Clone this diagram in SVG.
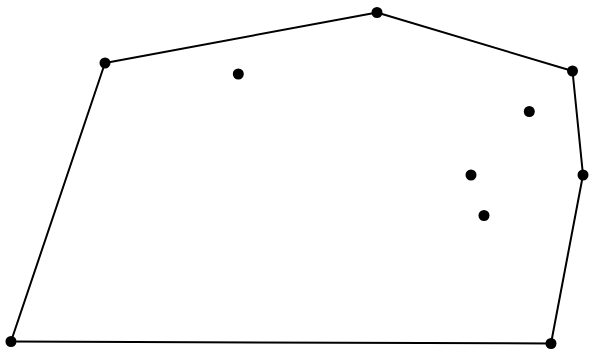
<svg xmlns="http://www.w3.org/2000/svg" width="589" height="356" viewBox="0 0 589 356">
<style>
.edge{stroke:#000;stroke-width:2;fill:none;stroke-linecap:round}
.pt{fill:#000}
</style>
<rect width="589" height="356" fill="#fff"/>
<g id="connectors">
<line class="edge" x1="11" y1="341.5" x2="105" y2="63"/>
<line class="edge" x1="105" y1="63" x2="377" y2="12.5"/>
<line class="edge" x1="377" y1="12.5" x2="572.5" y2="71"/>
<line class="edge" x1="572.5" y1="71" x2="583" y2="175"/>
<line class="edge" x1="583" y1="175" x2="551" y2="343.5"/>
<line class="edge" x1="551" y1="343.5" x2="11" y2="341.5"/>
</g>
<g id="p1"><circle class="pt" cx="11" cy="341.5" r="5.5"/></g>
<g id="p2"><circle class="pt" cx="105" cy="63" r="5.5"/></g>
<g id="p3"><circle class="pt" cx="377" cy="12.5" r="5.5"/></g>
<g id="p4"><circle class="pt" cx="572.5" cy="71" r="5.5"/></g>
<g id="p5"><circle class="pt" cx="583" cy="175" r="5.5"/></g>
<g id="p6"><circle class="pt" cx="551" cy="343.5" r="5.5"/></g>
<g id="p7"><circle class="pt" cx="238.3" cy="74" r="5.5"/></g>
<g id="p8"><circle class="pt" cx="529.3" cy="111.5" r="5.5"/></g>
<g id="p9"><circle class="pt" cx="471" cy="175" r="5.5"/></g>
<g id="p10"><circle class="pt" cx="484" cy="215.5" r="5.5"/></g>
</svg>
